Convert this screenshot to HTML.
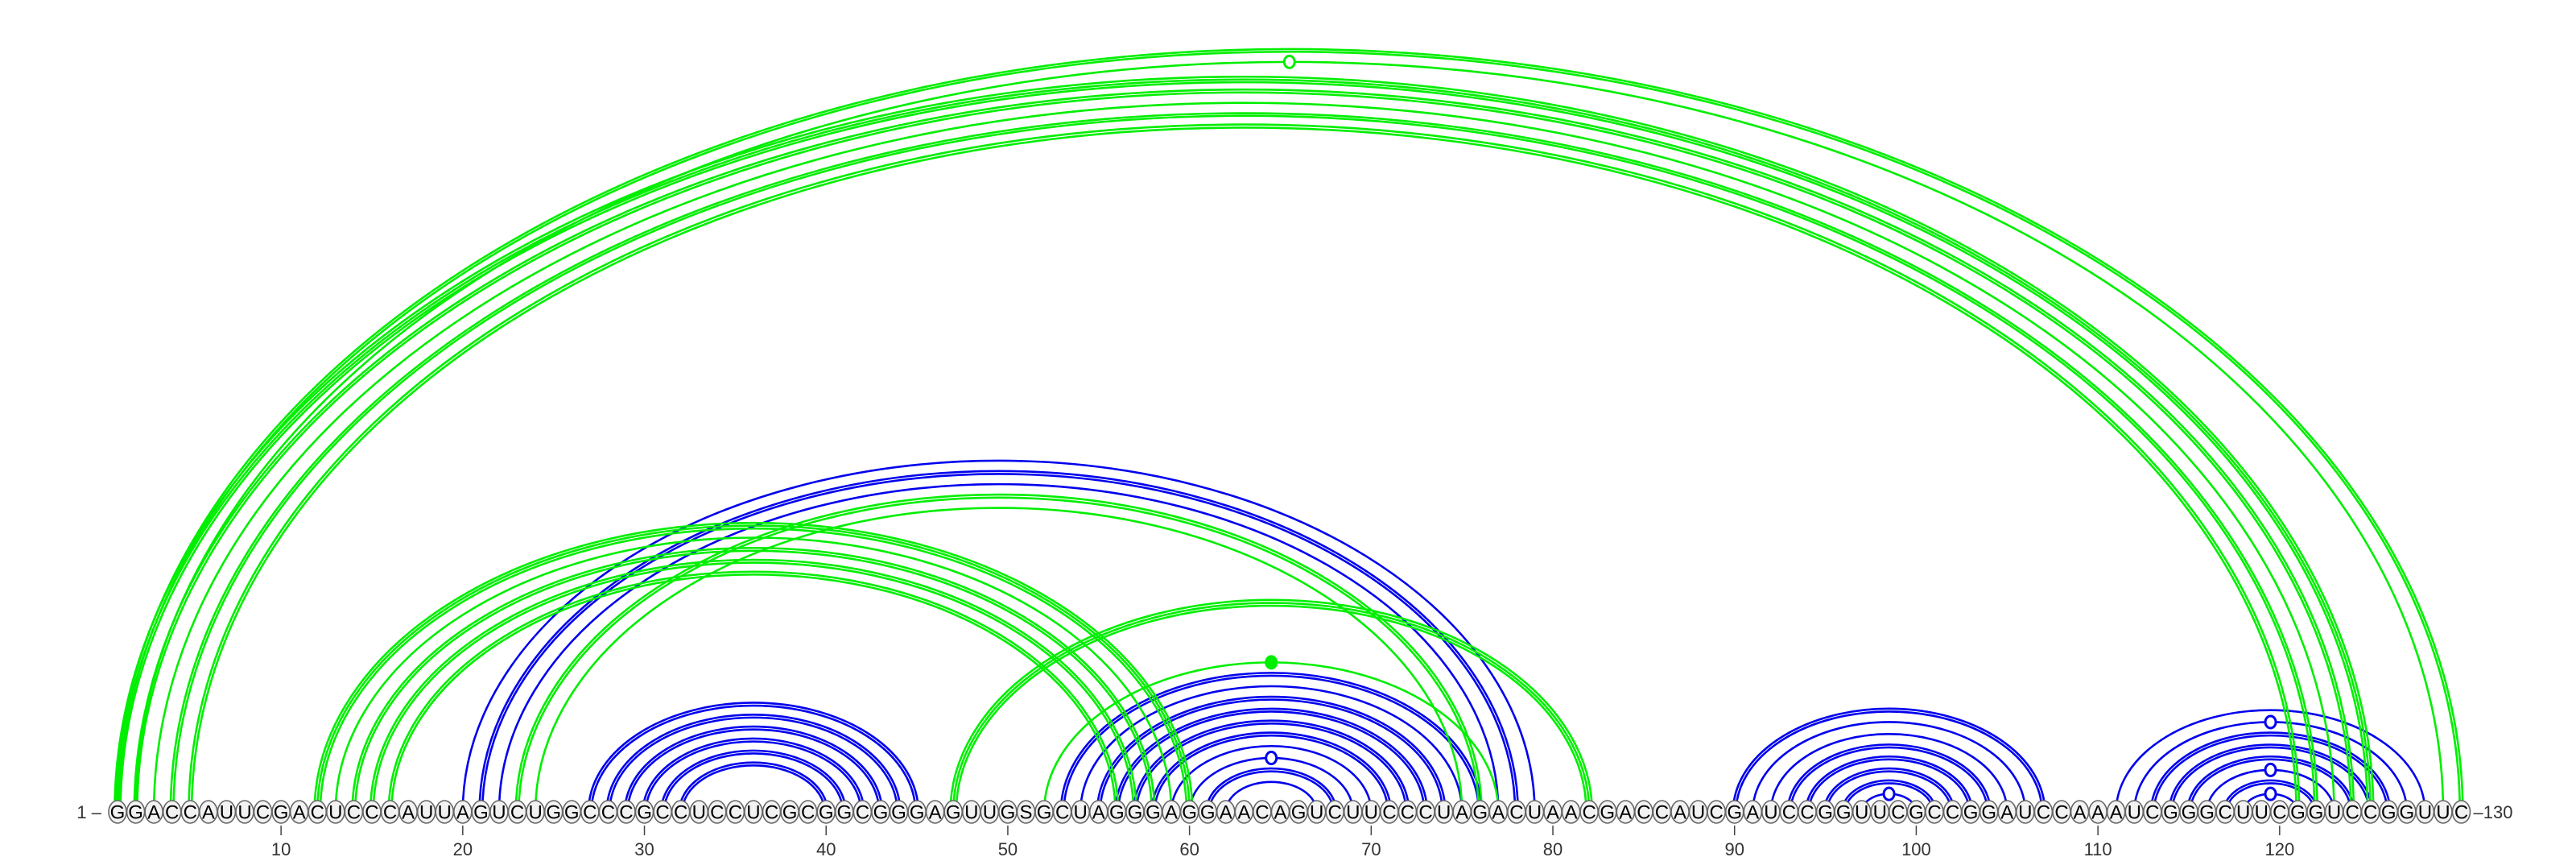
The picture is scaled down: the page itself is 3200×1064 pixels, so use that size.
<!DOCTYPE html>
<html><head><meta charset="utf-8">
<style>
html,body{margin:0;padding:0;background:#fff;}
svg{display:block;}
text{font-family:"Liberation Sans","DejaVu Sans",sans-serif;}
</style></head>
<body>
<svg id="chart" width="3200" height="1064" viewBox="0 0 3200 1064" xmlns="http://www.w3.org/2000/svg">
<g id="arcs"></g>
<g id="bases"></g>
<g id="axis"></g>
</svg>
<script>
const sequence = "GGACCAUUCGACUCCCAUUAGUCUGGCCCGCCUCCUCGCGGCGGGAGUUGSGCUAGGGAGGAACAGUCUUCCCUAGACUAACGACCAUCGAUCCGGUUCGCCGGAUCCAAAUCGGGCUUCGGUCCGGUUC";
const tickValues = [10,20,30,40,50,60,70,80,90,100,110,120];
const arcStart = [27,28,29,30,31,32, 20,21,22, 53,54,55,56,57,58,59,60,61,62, 90,91,92,93,94,95,96,97, 111,112,113,114,115,116,117,118,
                  1,2,1,2,3,4,5, 12,13,14,15,16, 23,24, 47, 52];
const arcEnd   = [45,44,43,42,41,40, 79,78,77, 76,75,74,73,72,71,70,69,68,67, 107,106,105,104,103,102,101,100, 128,127,126,125,124,123,122,121,
                  130,129,125,124,123,122,121, 60,59,58,57,56, 76,75, 82, 77];
const arcColor = ["b","b","b","b","b","b", "b","b","b", "b","b","b","b","b","b","b","b","b","b", "b","b","b","b","b","b","b","b", "b","b","b","b","b","b","b","b",
                  "g","g","g","g","g","g","g", "g","g","g","g","g", "g","g", "g","g"];
const arcLines = [2,2,2,2,2,2, 1,2,1, 2,1,2,2,2,2,1,1,2,1, 2,1,1,2,2,2,2,1, 1,1,2,2,2,1,2,1,
                  2,1,3,2,1,2,2, 3,1,2,2,2, 2,1, 3,1];
const arcMarker = ["","","","","","", "","","", "","","","","","","","o","","", "","","","","","","","o", "","o","","","","o","","o",
                   "","o","","","","","", "","","","","", "","", "","f"];

const X0 = 146, DX = 22.57, Y0 = 1008;
function xPos(i){ return X0 + (i-1)*DX; }
function heightForSpan(s){ return 0.33*s - 0.0000018*s*s; }
const NS = "http://www.w3.org/2000/svg";
const colors = {b:"#0000ee", g:"#00ee00"};
const arcsG = document.getElementById("arcs");

function drawArc(k){
  const i = arcStart[k], j = arcEnd[k], c = colors[arcColor[k]], n = arcLines[k];
  const x1 = xPos(i), x2 = xPos(j), rx = (x2-x1)/2, ry = heightForSpan(x2-x1);
  const g = document.createElementNS(NS,"g");
  
  
  for(let m=0;m<n;m++){
    const d = (m - (n-1)/2)*3.6;
    const p = document.createElementNS(NS,"path");
    p.setAttribute("d", "M"+(x1-d)+","+Y0+" A"+(rx+d)+","+(ry+d)+" 0 0 1 "+(x2+d)+","+Y0);
    p.setAttribute("fill","none");
    p.setAttribute("stroke",c);
    p.setAttribute("stroke-width","2.6");
    
    
    g.appendChild(p);
  }
  if(arcMarker[k]){
    const e = document.createElementNS(NS,"ellipse");
    e.setAttribute("cx",(x1+x2)/2);
    e.setAttribute("cy",Y0-ry);
    e.setAttribute("rx",6.5); e.setAttribute("ry",7.5);
    e.setAttribute("fill", arcMarker[k]==="f" ? c : "#fff");
    e.setAttribute("stroke",c); e.setAttribute("stroke-width","3");
    
    
    g.appendChild(e);
  }
  arcsG.appendChild(g);
}
for(let k=0;k<arcStart.length;k++) if(arcColor[k]==="b") drawArc(k);
for(let k=0;k<arcStart.length;k++) if(arcColor[k]==="g") drawArc(k);

const basesG = document.getElementById("bases");
for(let i=1;i<=sequence.length;i++){
  const g = document.createElementNS(NS,"g");
  
  
  const e = document.createElementNS(NS,"ellipse");
  e.setAttribute("cx",xPos(i)); e.setAttribute("cy",Y0);
  e.setAttribute("rx",11); e.setAttribute("ry",14);
  e.setAttribute("fill","#f2f2f2"); e.setAttribute("stroke","#666"); e.setAttribute("stroke-width","1.6");
  g.appendChild(e);
  const t = document.createElementNS(NS,"text");
  t.setAttribute("x",xPos(i)); t.setAttribute("y",Y0+8.5);
  t.setAttribute("text-anchor","middle"); t.setAttribute("font-size","24");
  t.setAttribute("fill","#000");
  t.textContent = sequence[i-1];
  g.appendChild(t);
  basesG.appendChild(g);
}

const axisG = document.getElementById("axis");
function addText(x,y,s,anchor,name){
  const t = document.createElementNS(NS,"text");
  t.setAttribute("x",x); t.setAttribute("y",y); t.setAttribute("text-anchor",anchor);
  t.setAttribute("font-size","22"); t.setAttribute("fill","#333");
  t.textContent = s;
  
  
  axisG.appendChild(t);
}
addText(xPos(1)-20, Y0+8, "1 \u2013", "end", "start-label");
addText(xPos(sequence.length)+15, Y0+8, "\u2013130", "start", "end-label");
tickValues.forEach(v=>{
  const l = document.createElementNS(NS,"line");
  l.setAttribute("x1",xPos(v)); l.setAttribute("x2",xPos(v));
  l.setAttribute("y1",1025); l.setAttribute("y2",1037);
  l.setAttribute("stroke","#444"); l.setAttribute("stroke-width","1.5");
  
  
  axisG.appendChild(l);
  addText(xPos(v), 1062, String(v), "middle", "tick-label");
});
</script>
</body></html>
